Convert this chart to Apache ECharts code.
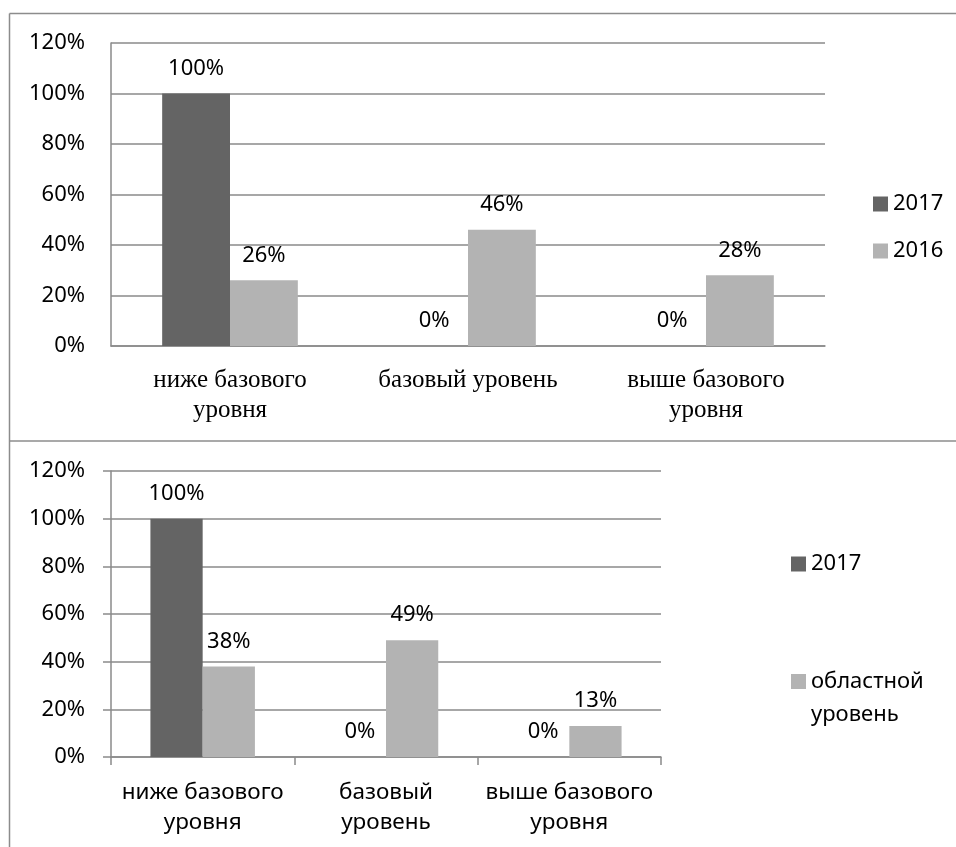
<!DOCTYPE html>
<html>
<head>
<meta charset="utf-8">
<script src="https://cdn.jsdelivr.net/npm/echarts@6/dist/echarts.min.js"></script>
<style>
html,body{margin:0;padding:0;background:#fff;}
#chart{width:956px;height:847px;}
</style>
</head>
<body>
<div id="chart"></div>
<script>
const categories = ['ниже базового\nуровня', 'базовый уровень', 'выше базового\nуровня'];
const categories2 = ['ниже базового\nуровня', 'базовый\nуровень', 'выше базового\nуровня'];
const top2017 = [100, 0, 0];
const top2016 = [26, 46, 28];
const bottom2017 = [100, 0, 0];
const bottomRegion = [38, 49, 13];
const yTicks = {min: 0, max: 120, interval: 20};

const SANS = 'Noto Sans';
const SERIF = 'Liberation Serif';
const GRID_COLOR = '#8a8a8a';
const DARK = '#646464';
const LIGHT = '#b3b3b3';

function yAxisFor(gridIndex, withTicks) {
  return {
    type: 'value', gridIndex: gridIndex,
    min: yTicks.min, max: yTicks.max, interval: yTicks.interval,
    axisLabel: {formatter: '{value}%', fontFamily: SANS, fontSize: 22, color: '#000', margin: 26},
    axisLine: {show: true, lineStyle: {color: GRID_COLOR, width: 1.5}},
    axisTick: {show: withTicks, length: 8, lineStyle: {color: GRID_COLOR, width: 1.5}},
    splitLine: {show: true, lineStyle: {color: GRID_COLOR, width: 1.5}}
  };
}

const labelOpt = {
  show: true, position: 'top', distance: 14,
  formatter: '{c}%', fontFamily: SANS, fontSize: 22, color: '#000'
};

function barSeries(name, data, xi, yi, color) {
  return {
    name: name, type: 'bar', xAxisIndex: xi, yAxisIndex: yi, data: data,
    barGap: 0, barCategoryGap: '43%',
    itemStyle: {color: color},
    label: labelOpt
  };
}

const legendText = {fontFamily: SANS, fontSize: 22, color: '#000', lineHeight: 26};

const option = {
  animation: false,
  backgroundColor: '#fff',
  grid: [
    {left: 111, top: 43, width: 714, height: 303},
    {left: 111, top: 471, width: 550, height: 286}
  ],
  xAxis: [
    {
      type: 'category', gridIndex: 0, data: categories,
      axisLabel: {fontFamily: SERIF, fontSize: 25, color: '#000', lineHeight: 30, margin: 19, interval: 0},
      axisLine: {show: true, lineStyle: {color: GRID_COLOR, width: 1.5}},
      axisTick: {show: false}
    },
    {
      type: 'category', gridIndex: 1, data: categories2,
      axisLabel: {fontFamily: SANS, fontSize: 22.5, color: '#000', lineHeight: 30, margin: 21, interval: 0},
      axisLine: {show: true, lineStyle: {color: GRID_COLOR, width: 1.5}},
      axisTick: {show: true, length: 8, lineStyle: {color: GRID_COLOR, width: 1.5}}
    }
  ],
  yAxis: [yAxisFor(0, false), yAxisFor(1, true)],
  legend: [
    {data: ['2017'], orient: 'vertical', left: 868, top: 186, itemWidth: 15, itemHeight: 15, textStyle: legendText, selectedMode: false, icon: 'rect'},
    {data: ['2016'], orient: 'vertical', left: 868, top: 233, itemWidth: 15, itemHeight: 15, textStyle: legendText, selectedMode: false, icon: 'rect'},
    {data: ['2017'], orient: 'vertical', left: 786, top: 546, itemWidth: 15, itemHeight: 15, textStyle: legendText, selectedMode: false, icon: 'rect'},
    {
      data: ['областной уровень'],
      orient: 'vertical', left: 786, top: 627, itemWidth: 15, itemHeight: 15,
      textStyle: {fontFamily: SANS, fontSize: 22, color: '#000', lineHeight: 33},
      selectedMode: false, icon: 'rect',
      formatter: function (n) { return n === 'областной уровень' ? '\u00a0\nобластной\nуровень' : n; }
    }
  ],
  graphic: [
    {type: 'line', shape: {x1: 9.5, y1: 13.5, x2: 956, y2: 13.5}, style: {stroke: '#8c8c8c', lineWidth: 1.5}, silent: true},
    {type: 'line', shape: {x1: 9.5, y1: 13.5, x2: 9.5, y2: 847}, style: {stroke: '#8c8c8c', lineWidth: 1.5}, silent: true},
    {type: 'line', shape: {x1: 9.5, y1: 441, x2: 956, y2: 441}, style: {stroke: '#8c8c8c', lineWidth: 1.5}, silent: true}
  ],
  series: [
    barSeries('2017', top2017, 0, 0, DARK),
    barSeries('2016', top2016, 0, 0, LIGHT),
    barSeries('2017', bottom2017, 1, 1, DARK),
    barSeries('областной уровень', bottomRegion, 1, 1, LIGHT)
  ]
};

const chart = echarts.init(document.getElementById('chart'), null, {renderer: 'canvas'});
chart.setOption(option);
</script>
</body>
</html>
